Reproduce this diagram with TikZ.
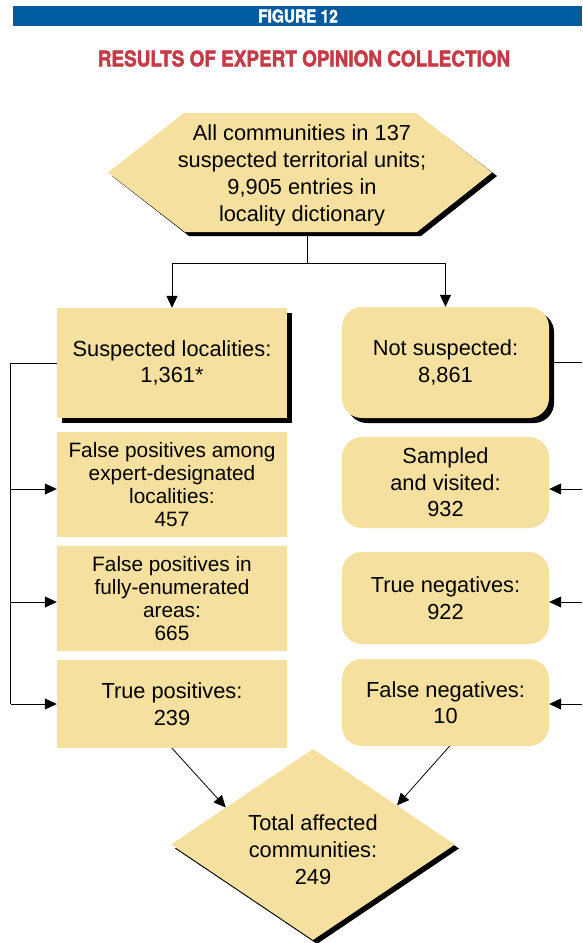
\documentclass[tikz,border=0pt]{standalone}
\usepackage{fontspec}
\setmainfont{Liberation Sans}
\newfontfamily\condfont[FakeStretch=0.88,FakeBold=2]{TeX Gyre Heros}
\usetikzlibrary{shapes.geometric,arrows.meta,shadows,calc}
\definecolor{tanfill}{HTML}{F6E09F}
\definecolor{bannerblue}{HTML}{005C9F}
\definecolor{titlered}{HTML}{C43A45}
\begin{document}
\begin{tikzpicture}[x=1pt,y=-1pt,
  box/.style={fill=tanfill, draw=none, minimum width=230pt, inner sep=0pt, align=center, font=\fontsize{21.8}{26.5}\selectfont},
  rbox/.style={box, minimum width=207pt, rounded corners=20pt},
  dense/.style={font=\fontsize{20.8}{23}\selectfont},
  shade/.style={drop shadow={shadow xshift=5pt, shadow yshift=-5pt, fill=black, opacity=1}},
  arr/.style={-{Triangle[length=12pt,width=11pt]}, line width=0.8pt},
  conn/.style={line width=0.8pt}]
\useasboundingbox (0,0) rectangle (582,943);
% banner and title
\fill[bannerblue] (13,6) rectangle (582,26);
\node[font=\condfont\bfseries\fontsize{17.5}{17.5}\selectfont, text=white, inner sep=0pt] (fig) at (298,16) {FIGURE 12};
\node[font=\condfont\bfseries\fontsize{21.5}{21.5}\selectfont, text=titlered, inner sep=0pt] (title) at (304,58.5) {RESULTS OF EXPERT OPINION COLLECTION};
% hexagon
\fill[black] (188,117) -- (420,117) -- (497,176) -- (421,236) -- (189,236) -- (112,176) -- cycle;
\fill[tanfill] (184,113) -- (416,113) -- (492,172.5) -- (417,232) -- (185,232) -- (108,172.5) -- cycle;
\node[font=\fontsize{21.8}{27}\selectfont, align=center, minimum width=384pt, minimum height=119pt, inner sep=0pt] (top) at (302,175)
  {All communities in 137\\suspected territorial units;\\9,905 entries in\\locality dictionary};
% left column
\node[box, shade, minimum height=110pt] (b1) at (172,363) {Suspected localities:\\1,361*};
\node[box, dense, minimum height=105pt] (b2) at (172,484.5) {False positives among\\expert-designated\\localities:\\457};
\node[box, dense, minimum height=105pt] (b3) at (172,598.5) {False positives in\\fully-enumerated\\areas:\\665};
\node[box, minimum height=88pt] (b4) at (172,704) {True positives:\\239};
% right column
\node[rbox, shade, minimum height=111pt] (nb1) at (445.5,362.5) {Not suspected:\\8,861};
\node[rbox, minimum height=91pt] (nb2) at (445.5,482.5) {Sampled\\and visited:\\932};
\node[rbox, minimum height=92pt] (nb3) at (445.5,598) {True negatives:\\922};
\node[rbox, minimum height=87pt] (nb4) at (445.5,702.5) {False negatives:\\10};
% diamond
\node[diamond, fill=tanfill, minimum width=284pt, minimum height=191pt, inner sep=0pt, aspect=1.49,
  drop shadow={shadow xshift=4pt, shadow yshift=-4pt, fill=black, opacity=1},
  align=center, font=\fontsize{21.8}{27}\selectfont] (d) at (313,844.5) {\rule{0pt}{26pt}Total affected\\communities:\\249};
% connectors
\coordinate (split) at (307,263);
\draw[conn] (split |- top.south) -- (split);
\draw[arr] (split) -| (b1.north);
\draw[arr] (split) -| (nb1.north);
\coordinate (lbus) at (10.5,362);
\coordinate (rbus) at (582,362);
\coordinate (row2) at (0,489);
\coordinate (row3) at (0,602);
\coordinate (row4) at (0,704);
\draw[conn] (b1.west) -| (lbus |- row4);
\draw[arr] (lbus |- row2) -- (b2.west |- row2);
\draw[arr] (lbus |- row3) -- (b3.west |- row3);
\draw[arr] (lbus |- row4) -- (b4.west |- row4);
\draw[conn] (nb1.east) -- (nb1.east -| rbus);
\draw[arr] (rbus |- row2) -- (nb2.east |- row2);
\draw[arr] (rbus |- row3) -- (nb3.east |- row3);
\draw[arr] (rbus |- row4) -- (nb4.east |- row4);
\draw[arr] (b4.south) -- (d.157);
\draw[arr] ($(nb4.south)+(4,0)$) -- (d.25);
\end{tikzpicture}
\end{document}
